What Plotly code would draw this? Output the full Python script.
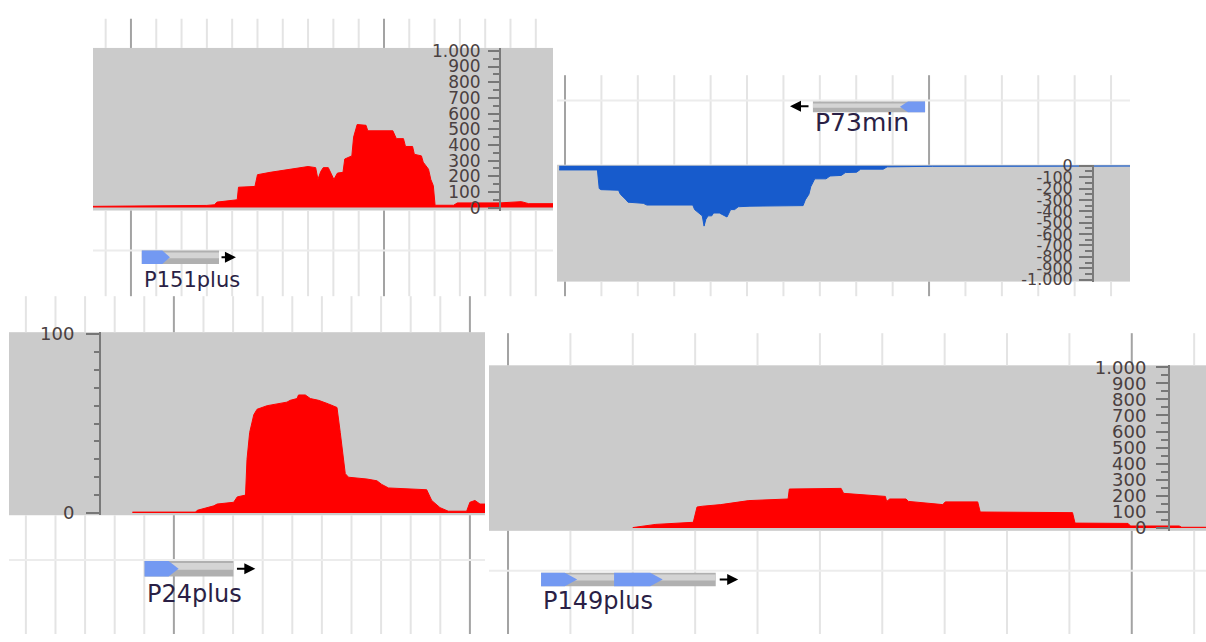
import numpy as np
import plotly.graph_objects as go

W, H = 1206, 642

# ---------------- data (positions in bp-like units, values = read coverage) -------------
A_POS = [85, 116, 130, 133, 134, 142, 142.5, 149, 150, 155, 161, 166, 170, 173, 173.9, 175, 176, 178,
         180.2, 181.6, 183.8, 184.5, 187.3, 188, 189.4, 192.9, 193.6, 203.5, 204.9, 207.7, 208.5, 211.3,
         212, 214.8, 215.5, 217.6, 218.5, 219.5, 220.2, 227.5, 229, 245.8, 250, 254.3, 257.2, 266.8]
A_VAL = [8, 10, 14, 18, 35, 50, 130, 135, 210, 225, 240, 255, 262, 255, 180, 230, 255, 255,
         180, 220, 225, 310, 330, 450, 530, 525, 490, 490, 440, 440, 390, 390,
         340, 330, 290, 245, 180, 140, 15, 15, 30, 30, 35, 38, 25, 25]

B_POS = [98.4, 108.9, 109.4, 109.9, 114.7, 115.2, 116.8, 117.3, 121.5, 122.5, 135.1, 135.6, 137.7,
         138.2, 138.7, 139.3, 140.3, 140.8, 142.4, 144.5, 145.5, 146.6, 147.6, 150.8, 165.4, 166.0,
         167.0, 167.5, 168.6, 171.7, 172.8, 175.9, 177.0, 180.1, 181.2, 187.4, 188.5, 201.0, 255.2]
B_VAL = [-37, -37, -200, -210, -215, -250, -300, -320, -330, -345, -345, -385, -440,
         -530, -470, -440, -440, -415, -415, -450, -385, -385, -360, -355, -350, -300,
         -250, -185, -115, -115, -90, -85, -60, -57, -30, -30, -10, -5, -3]

C_POS = [86.0, 107.3, 107.9, 111.3, 113.5, 114.6, 120.2, 121.4, 124.2, 124.7, 125.6, 127.0, 128.1,
         131.5, 138.2, 139.3, 141.6, 142.1, 144.4, 146.1, 148.9, 152.2, 153.9, 155.1, 156.2, 157.9,
         159.0, 165.2, 168.6, 170.2, 172.5, 185.4, 187.1, 189.9, 192.7, 198.9, 200.0, 201.7, 203.4, 205.1]
C_VAL = [0.5, 0.5, 1.5, 3, 4, 5, 6, 9, 10, 30, 45, 55, 58,
         60, 62, 63, 64, 66, 66, 64, 63, 61, 60, 59, 45, 22,
         20, 19, 18, 16, 14, 13, 7, 3, 1, 1, 6, 7, 5, 5]

D_POS = [120.0, 123.0, 123.7, 129.7, 130.3, 131.2, 134.1, 138.6, 144.9, 145.1, 153.4, 153.8, 157.9,
         160.5, 160.7, 161.2, 163.8, 164.2, 169.7, 170.1, 175.3, 175.7, 190.5, 190.9, 199.4, 199.8,
         207.6, 208.0, 211.9]
D_VAL = [2, 18, 22, 35, 130, 135, 145, 170, 180, 242, 246, 215, 205,
         196, 165, 180, 180, 165, 145, 162, 162, 99, 95, 30, 28, 12,
         12, 4, 4]

GENE_NAMES = ["P151plus", "P73min", "P24plus", "P149plus"]
GENE_START = [104.3, 168.1, 90.1, 105.3]
GENE_END = [134.8, 198.9, 120.1, 133.3]
GENE_STRAND = ["+", "-", "+", "+"]
GENE_BLUE = [[(104.3, 115.4)], [(192.0, 198.9)], [(90.1, 101.6)], [(105.3, 111.1), (117.0, 124.8)]]
GENE_ARROW = [(135.2, 141.5), (167.3, 161.8), (120.8, 127.5), (133.7, 136.9)]

TICKS_1000 = list(range(0, 1001, 100))
TICKS_NEG = list(range(0, -1001, -100))
TICKS_100 = [0, 100]


def fmt(v):
    s = f"{abs(v):,}".replace(",", ".")
    return ("-" if v < 0 else "") + s


# ---------------- layout description (pixels) ----------------
PANELS = [
    dict(pos=A_POS, val=A_VAL, color="#ff0000", xb=(93, 553), yb=(40, 207), pt=10, pb=295, hl=248,
         xr=(85.0, 266.8), yr=(-18.6, 1018.6), yax=500, tv=TICKS_1000, minor=list(range(50, 1000, 100)),
         tfs=17, tl=11, mtl=6, so=4, gy=(248, 262), ly=278, ay=255, lfs=21, tip=3.0),
    dict(pos=B_POS, val=B_VAL, color="#175bcc", xb=(557, 1130), yb=(160, 280), pt=68, pb=295, hl=94,
         xr=(97.8, 255.2), yr=(-1017, 8.5), yax=1093, tv=TICKS_NEG, minor=list(range(-50, -1000, -100)),
         tfs=16, tl=13, mtl=7, so=3, gy=(95, 106), ly=117, ay=100, lfs=25, tip=2.2),
    dict(pos=C_POS, val=C_VAL, color="#ff0000", xb=(9, 485), yb=(332, 520), pt=295, pb=642, hl=566,
         xr=(44.3, 205.1), yr=(-1.25, 101.1), yax=100, tv=TICKS_100, minor=list(range(10, 100, 10)),
         tfs=18, tl=13, mtl=5, so=8, gy=(567, 583), ly=601, ay=575, lfs=24, tip=3.4),
    dict(pos=D_POS, val=D_VAL, color="#ff0000", xb=(489, 1206), yb=(366, 536), pt=333, pb=642, hl=577,
         xr=(96.95, 211.9), yr=(-18, 1012), yax=1169, tv=TICKS_1000, minor=list(range(50, 1000, 100)),
         tfs=18, tl=12, mtl=7, so=6, gy=(579, 593), ly=608, ay=586, lfs=24, tip=2.0),
]


def px(x):
    return x / W


def py(y):
    return 1 - y / H


fig = go.Figure()
shapes = []
annotations = []
LIGHT = "#e4e4e4"
DARK = "#a3a3a3"

for i, p in enumerate(PANELS):
    n = "" if i == 0 else str(i + 1)
    xa, ya = "x" + n, "y" + n
    fig.add_trace(go.Scatter(x=p["pos"], y=p["val"], mode="lines", fill="tozeroy",
                             line=dict(color=p["color"], width=1), fillcolor=p["color"],
                             xaxis=xa, yaxis=ya, hoverinfo="skip"))
    fig.layout["xaxis" + n] = dict(domain=[px(p["xb"][0]), px(p["xb"][1])], range=list(p["xr"]),
                                   anchor=ya, showgrid=False, zeroline=False, showline=False,
                                   showticklabels=False, ticks="", fixedrange=True)
    fig.layout["yaxis" + n] = dict(domain=[py(p["yb"][1]), py(p["yb"][0])], range=list(p["yr"]),
                                   anchor="free", position=px(p["yax"]), side="left",
                                   tickmode="array", tickvals=p["tv"], ticktext=[fmt(v) for v in p["tv"]],
                                   ticks="outside", ticklen=p["tl"], tickwidth=1.5, tickcolor="#777777",
                                   minor=dict(tickmode="array", tickvals=p["minor"], ticks="outside",
                                              ticklen=p["mtl"], tickwidth=1.5, tickcolor="#777777"),
                                   showline=True, linecolor="#7a7a7a", linewidth=2,
                                   showgrid=False, zeroline=False, fixedrange=True,
                                   ticklabelstandoff=p["so"],
                                   tickfont=dict(family="DejaVu Sans", size=p["tfs"], color="#4a4040"))
    # grid lines outside the signal band
    g0 = np.ceil(p["xr"][0] / 10) * 10
    for g in np.arange(g0, p["xr"][1], 10):
        col = DARK if int(round(g)) % 100 == 0 else LIGHT
        for (y0, y1) in [(p["pt"], p["yb"][0]), (p["yb"][1], p["pb"])]:
            shapes.append(dict(type="line", xref=xa, yref="paper", x0=g, x1=g, y0=py(y0), y1=py(y1),
                               line=dict(color=col, width=2), layer="below"))
    shapes.append(dict(type="line", xref=xa + " domain", yref="paper", x0=0, x1=1,
                       y0=py(p["hl"]), y1=py(p["hl"]), line=dict(color="#ececec", width=2), layer="below"))

    # gene feature
    s, e = GENE_START[i], GENE_END[i]
    gt, gb = p["gy"]
    gm = (gt + gb) / 2
    shapes.append(dict(type="rect", xref=xa, yref="paper", x0=s, x1=e, y0=py(gb), y1=py(gt),
                       fillcolor="#b0b0b0", line=dict(width=0), layer="above"))
    shapes.append(dict(type="rect", xref=xa, yref="paper", x0=s, x1=e, y0=py(gm + 1), y1=py(gt + 2),
                       fillcolor="#d4d4d4", line=dict(width=0), layer="above"))
    tip = p["tip"]
    for (b0, b1) in GENE_BLUE[i]:
        if GENE_STRAND[i] == "+":
            path = (f"M {b0},{py(gt)} L {b1 - tip},{py(gt)} L {b1},{py(gm)} "
                    f"L {b1 - tip},{py(gb)} L {b0},{py(gb)} Z")
        else:
            path = (f"M {b1},{py(gt)} L {b0 + tip},{py(gt)} L {b0},{py(gm)} "
                    f"L {b0 + tip},{py(gb)} L {b1},{py(gb)} Z")
        shapes.append(dict(type="path", xref=xa, yref="paper", path=path,
                           fillcolor="#7399f2", line=dict(width=0), layer="above"))
    a0, a1 = GENE_ARROW[i]
    annotations.append(dict(x=a1, y=py(p["ay"]), xref=xa, yref="paper", ax=a0, ay=0, axref=xa,
                            ayref="pixel", showarrow=True, arrowhead=2, arrowsize=1.1, arrowwidth=2,
                            arrowcolor="#000000", text=""))
    annotations.append(dict(x=s, y=py(p["ly"]), xref=xa, yref="paper", text=GENE_NAMES[i],
                            showarrow=False, xanchor="left", yanchor="middle",
                            font=dict(family="DejaVu Sans", size=p["lfs"], color="#2a1f45")))

fig.update_layout(width=W, height=H, margin=dict(l=0, r=0, t=0, b=0),
                  paper_bgcolor="#ffffff", plot_bgcolor="#cbcbcb", showlegend=False,
                  shapes=shapes, annotations=annotations)

fig.write_html("out.html", config={"displayModeBar": False},
               post_script="document.body.style.margin='0px';")
